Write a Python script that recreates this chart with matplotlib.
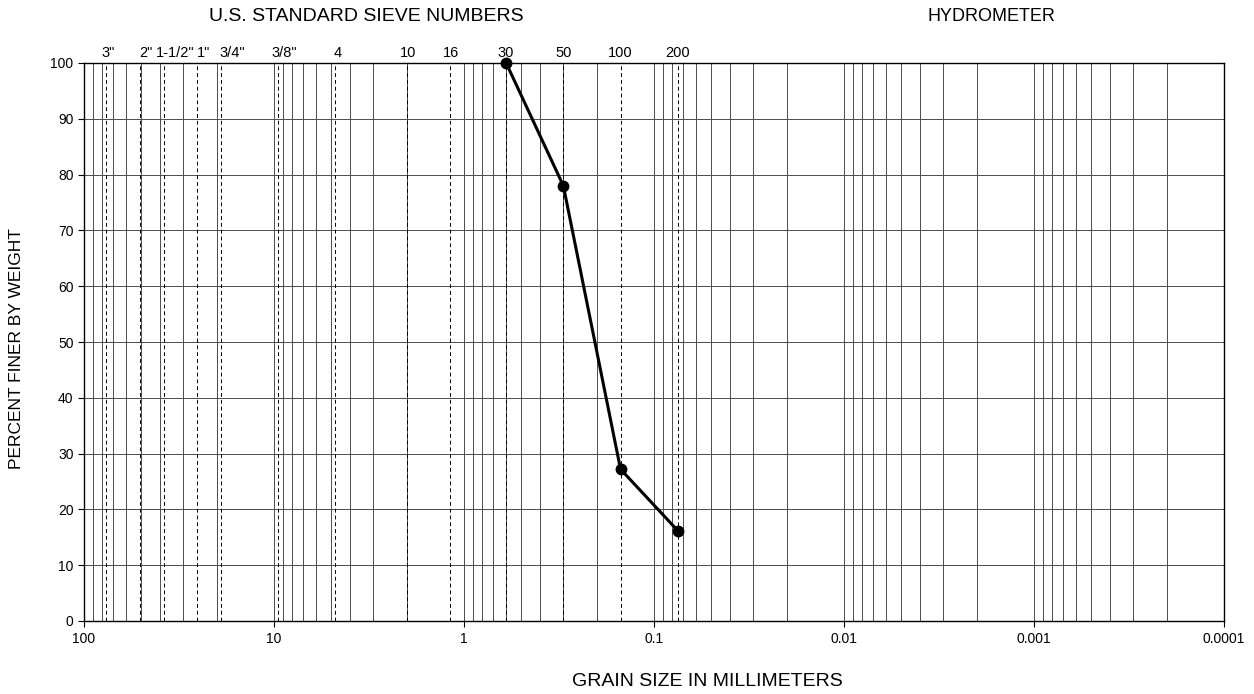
import numpy as np
import matplotlib
matplotlib.use("Agg")
import matplotlib.pyplot as plt
from matplotlib.ticker import LogLocator, FixedLocator, FixedFormatter, NullFormatter

plt.rcParams['font.family'] = ['Liberation Sans', 'DejaVu Sans']

# sieve openings (mm) and their labels
sieve_labels = ['3"', '2"', '1-1/2"', '1"', '3/4"', '3/8"', '4', '10', '16', '30', '50', '100', '200']
sieve_mm = [76.2, 50.8, 38.1, 25.4, 19.05, 9.525, 4.75, 2.0, 1.18, 0.6, 0.3, 0.15, 0.075]

# measured gradation
grain_mm = [0.6, 0.3, 0.15, 0.075]
pct_finer = [100, 78, 27.2, 16.2]

x_ticks = [100, 10, 1, 0.1, 0.01, 0.001, 0.0001]
x_ticklabels = ['100', '10', '1', '0.1', '0.01', '0.001', '0.0001']

# small horizontal nudges (pixels) for crowded sieve labels
label_nudge = [2, 6, 12, 6, 11, 6, 2, 1, 1, 0, 0, 0, 0]

fig = plt.figure(figsize=(12.54, 6.94), dpi=100)
ax = fig.add_axes([84 / 1254, 1 - 621 / 694, 1140 / 1254, 558 / 694])

ax.set_xscale('log')
ax.set_xlim(100, 0.0001)
ax.set_ylim(0, 100)

# grid: decades and 2..9 subdivisions
ax.xaxis.set_major_locator(FixedLocator(x_ticks))
ax.xaxis.set_major_formatter(FixedFormatter(x_ticklabels))
ax.xaxis.set_minor_locator(LogLocator(base=10, subs=np.arange(2, 10), numticks=20))
ax.xaxis.set_minor_formatter(NullFormatter())
ax.set_yticks(np.arange(0, 101, 10))
ax.grid(True, which='both', axis='x', color='0.3', lw=0.7)
ax.grid(True, which='major', axis='y', color='0.3', lw=0.7)
ax.tick_params(axis='x', which='minor', length=0)
ax.tick_params(axis='both', which='major', direction='out', length=4, width=0.8,
               labelsize=10, colors='black')
ax.tick_params(axis='x', which='major', pad=4)

# dashed lines at each sieve opening, with labels above the plot
for lab, d, nd in zip(sieve_labels, sieve_mm, label_nudge):
    ax.axvline(d, color='black', lw=0.7, ls=(0, (4, 3)))
    ax.annotate(lab, xy=(d, 1), xycoords=('data', 'axes fraction'),
                xytext=(nd * 0.72, 4.5), textcoords='offset points',
                ha='center', va='baseline', fontsize=10.5)

ax.plot(grain_mm, pct_finer, color='black', lw=2.2, marker='o', markersize=7.5, zorder=5,
        clip_on=False)

for s in ax.spines.values():
    s.set_linewidth(1.0)
    s.set_color('black')

fig.text(366 / 1254, 1 - 16.5 / 694, 'U.S. STANDARD SIEVE NUMBERS', ha='center', va='center', fontsize=14)
fig.text(991 / 1254, 1 - 16.5 / 694, 'HYDROMETER', ha='center', va='center', fontsize=13)
fig.text(707 / 1254, 1 - 681 / 694, 'GRAIN SIZE IN MILLIMETERS', ha='center', va='center', fontsize=14)
fig.text(17 / 1254, 1 - 349 / 694, 'PERCENT FINER BY WEIGHT', ha='center', va='center',
         rotation=90, fontsize=12.5)

fig.savefig('out.png', dpi=100, facecolor='white')
